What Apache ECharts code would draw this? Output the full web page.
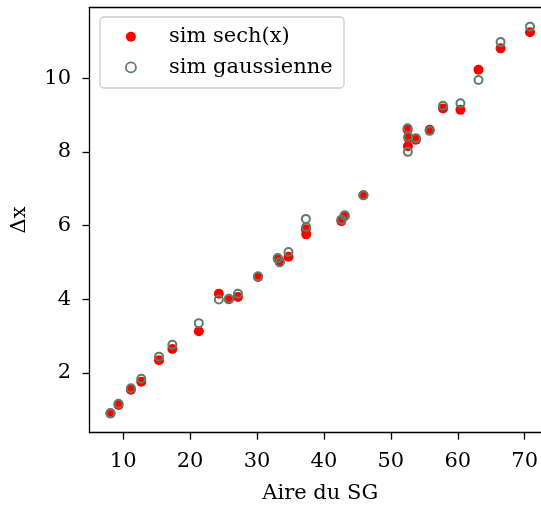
<!DOCTYPE html>
<html>
<head>
<meta charset="utf-8">
<script src="https://cdn.jsdelivr.net/npm/echarts@6/dist/echarts.min.js"></script>
<style>
html,body{margin:0;padding:0;background:#fff;}
#chart{width:541px;height:505px;}
</style>
</head>
<body>
<div id="chart"></div>
<script>
// Aire du SG (x) for each simulation
const aire = [8.1, 9.3, 11.15, 12.7, 15.35, 17.35, 21.3, 24.3, 25.8, 27.15, 30.15, 33.1, 33.4, 34.7, 37.3, 37.35, 42.6, 43.1, 45.9, 52.5, 52.6, 52.55, 53.75, 55.8, 57.8, 60.4, 63.1, 66.4, 70.8];
// Δx, sech(x) simulation
const sechY = [0.90, 1.13, 1.54, 1.76, 2.34, 2.65, 3.13, 4.15, 4.00, 4.06, 4.60, 5.10, 5.02, 5.15, 5.90, 5.76, 6.12, 6.26, 6.82, 8.60, 8.38, 8.15, 8.33, 8.60, 9.18, 9.14, 10.23, 10.81, 11.25];
// Δx, gaussian simulation
const gaussY = [0.90, 1.16, 1.58, 1.84, 2.44, 2.76, 3.35, 3.99, 4.01, 4.15, 4.62, 5.12, 5.00, 5.28, 6.18, 5.96, 6.16, 6.28, 6.82, 8.64, 8.41, 8.00, 8.37, 8.57, 9.25, 9.32, 9.95, 10.98, 11.40];
const xTicks = [10, 20, 30, 40, 50, 60, 70];
const yTicks = [2, 4, 6, 8, 10];
const seriesNames = ['sim sech(x)', 'sim gaussienne'];

const FONT = 'DejaVu Serif';
const FS = 21;
const RED = '#ff0000';
const GREEN = '#5a7f68';

const chart = echarts.init(document.getElementById('chart'), null, {renderer: 'canvas'});
const pair = ys => aire.map((x, i) => [x, ys[i]]);

chart.setOption({
  animation: false,
  backgroundColor: '#ffffff',
  grid: {left: 89.5, top: 7.3, bottom: 72.3, right: -10, containLabel: false, outerBoundsMode: 'none'},
  xAxis: [{
    type: 'value', min: 4.965, max: 73.935, position: 'bottom',
    name: 'Aire du SG', nameLocation: 'middle', nameGap: 50,
    nameTextStyle: {fontFamily: FONT, fontSize: FS, color: '#000'},
    axisLine: {show: true, onZero: false, lineStyle: {color: '#000', width: 1.3}},
    axisTick: {show: true, length: 7, lineStyle: {color: '#000', width: 1.3}, customValues: xTicks},
    axisLabel: {fontFamily: FONT, fontSize: FS, color: '#000', margin: 18, customValues: xTicks},
    splitLine: {show: false}
  }, {
    type: 'value', min: 4.965, max: 73.935, position: 'top',
    axisLine: {show: true, onZero: false, lineStyle: {color: '#000', width: 1.3}},
    axisTick: {show: false}, axisLabel: {show: false}, splitLine: {show: false}
  }],
  yAxis: [{
    type: 'value', min: 0.375, max: 11.925,
    name: 'Δx', nameLocation: 'middle', nameGap: 59,
    nameTextStyle: {fontFamily: FONT, fontSize: FS, color: '#000'},
    axisLine: {show: true, onZero: false, lineStyle: {color: '#000', width: 1.3}},
    axisTick: {show: true, length: 7, lineStyle: {color: '#000', width: 1.3}, customValues: yTicks},
    axisLabel: {fontFamily: FONT, fontSize: FS, color: '#000', margin: 18.5, customValues: yTicks},
    splitLine: {show: false}
  }],
  legend: {
    left: 125, top: 26.2, orient: 'vertical',
    itemWidth: 66, itemHeight: 10, itemGap: 9.7,
    padding: 0,
    textStyle: {fontFamily: FONT, fontSize: FS, color: '#000'},
    data: [
      {name: seriesNames[0]},
      {name: seriesNames[1], itemStyle: {borderWidth: 1.8}}
    ]
  },
  graphic: [{
    type: 'rect', z: 1, silent: true,
    shape: {x: 100, y: 17, width: 244, height: 71, r: 4},
    style: {fill: 'rgba(255,255,255,0.8)', stroke: '#cccccc', lineWidth: 1.3}
  }],
  series: [{
    name: seriesNames[0], type: 'scatter', xAxisIndex: 0,
    symbol: 'circle', symbolSize: 10,
    itemStyle: {color: RED, opacity: 1},
    data: pair(sechY), z: 2
  }, {
    name: seriesNames[1], type: 'scatter', xAxisIndex: 0,
    symbol: 'circle', symbolSize: 8,
    itemStyle: {color: 'rgba(0,0,0,0)', borderColor: GREEN, borderWidth: 2, opacity: 1},
    data: pair(gaussY), z: 3
  }]
});
</script>
</body>
</html>
